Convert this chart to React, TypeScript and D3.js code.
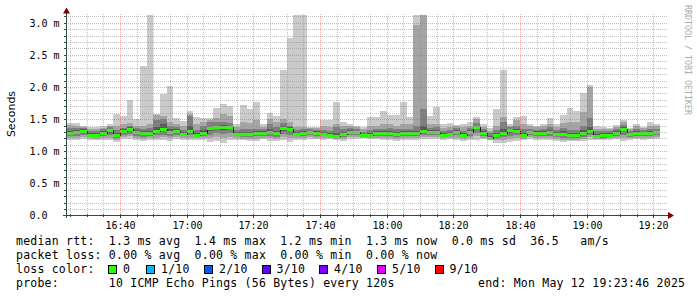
import React from 'react';
import * as d3 from 'd3';

// ---- data (ms), one value per 2-minute step starting 16:24 ----
const pingMin = [1.17,1.18,1.19,1.18,1.17,1.18,1.17,1.15,1.19,1.19,
1.18,1.16,1.18,1.17,1.18,1.16,1.19,1.18,1.17,1.18,
1.17,1.15,1.16,1.13,1.17,1.18,1.17,1.16,1.16,1.19,
1.16,1.16,1.17,1.15,1.18,1.18,1.19,1.19,1.18,1.19,
1.17,1.16,1.19,1.19,1.20,1.19,1.19,1.18,1.17,1.16,
1.18,1.18,1.18,1.19,1.19,1.19,1.18,1.19,1.17,1.16,
1.18,1.17,1.19,1.17,1.13,1.13,1.14,1.16,1.17,1.19,
1.18,1.17,1.18,1.16,1.15,1.16,1.16,1.16,1.18,1.17,
1.17,1.18,1.19,1.16,1.18,1.19,1.18,1.19,1.19];
const ping2 = [1.20,1.21,1.22,1.20,1.19,1.20,1.21,1.18,1.22,1.23,
1.21,1.19,1.21,1.21,1.22,1.20,1.22,1.20,1.21,1.20,
1.20,1.20,1.22,1.20,1.22,1.20,1.19,1.19,1.19,1.21,
1.20,1.19,1.22,1.21,1.20,1.21,1.22,1.21,1.20,1.21,
1.19,1.19,1.22,1.22,1.21,1.21,1.21,1.21,1.20,1.19,
1.21,1.21,1.21,1.22,1.22,1.22,1.20,1.21,1.21,1.19,
1.21,1.23,1.21,1.18,1.17,1.18,1.19,1.20,1.19,1.22,
1.21,1.20,1.21,1.19,1.18,1.18,1.18,1.19,1.22,1.19,
1.19,1.20,1.21,1.21,1.20,1.21,1.21,1.21,1.22];
const ping3 = [1.23,1.24,1.26,1.22,1.22,1.23,1.25,1.21,1.25,1.27,
1.24,1.22,1.24,1.25,1.26,1.24,1.25,1.23,1.25,1.22,
1.23,1.25,1.28,1.27,1.28,1.23,1.22,1.22,1.23,1.24,
1.24,1.22,1.27,1.26,1.23,1.24,1.25,1.24,1.23,1.23,
1.21,1.22,1.25,1.25,1.23,1.23,1.24,1.24,1.24,1.22,
1.24,1.24,1.24,1.26,1.25,1.25,1.22,1.23,1.25,1.22,
1.24,1.29,1.24,1.19,1.21,1.22,1.24,1.25,1.22,1.25,
1.24,1.23,1.24,1.22,1.21,1.21,1.21,1.22,1.26,1.21,
1.21,1.22,1.24,1.26,1.22,1.24,1.24,1.24,1.25];
const ping4 = [1.26,1.28,1.30,1.24,1.24,1.26,1.29,1.24,1.29,1.32,
1.27,1.25,1.27,1.29,1.31,1.27,1.29,1.25,1.29,1.24,
1.26,1.31,1.34,1.33,1.34,1.25,1.25,1.25,1.26,1.26,
1.27,1.25,1.32,1.31,1.25,1.27,1.28,1.27,1.25,1.25,
1.23,1.25,1.28,1.28,1.24,1.25,1.26,1.26,1.27,1.25,
1.26,1.26,1.26,1.29,1.28,1.28,1.24,1.25,1.28,1.24,
1.27,1.34,1.27,1.20,1.24,1.26,1.29,1.29,1.24,1.28,
1.27,1.26,1.27,1.25,1.25,1.24,1.23,1.25,1.29,1.23,
1.23,1.24,1.27,1.31,1.25,1.27,1.26,1.26,1.28];
const medianRtt = [1.28,1.30,1.32,1.25,1.26,1.28,1.33,1.26,1.31,1.35,
1.30,1.28,1.29,1.32,1.35,1.30,1.32,1.27,1.31,1.26,
1.29,1.36,1.38,1.38,1.38,1.27,1.27,1.27,1.28,1.28,
1.30,1.28,1.36,1.35,1.27,1.29,1.30,1.29,1.27,1.26,
1.24,1.27,1.30,1.30,1.25,1.26,1.28,1.28,1.29,1.27,
1.28,1.28,1.28,1.31,1.30,1.30,1.25,1.27,1.30,1.26,
1.30,1.38,1.29,1.21,1.26,1.29,1.33,1.32,1.26,1.30,
1.29,1.28,1.30,1.27,1.27,1.26,1.25,1.28,1.31,1.24,
1.25,1.25,1.29,1.34,1.27,1.29,1.28,1.28,1.30];
const ping7 = [1.32,1.33,1.34,1.28,1.29,1.31,1.35,1.29,1.34,1.37,
1.33,1.31,1.32,1.38,1.42,1.34,1.35,1.30,1.40,1.29,
1.33,1.38,1.40,1.41,1.40,1.30,1.30,1.30,1.31,1.31,
1.35,1.32,1.39,1.37,1.30,1.31,1.32,1.31,1.30,1.29,
1.28,1.30,1.33,1.32,1.27,1.29,1.31,1.31,1.32,1.30,
1.31,1.31,1.32,1.40,1.33,1.33,1.28,1.30,1.33,1.29,
1.33,1.40,1.32,1.24,1.29,1.35,1.35,1.35,1.29,1.32,
1.31,1.31,1.33,1.30,1.31,1.29,1.28,1.33,1.38,1.27,
1.28,1.28,1.31,1.37,1.29,1.32,1.30,1.31,1.32];
const ping8 = [1.36,1.36,1.36,1.31,1.31,1.34,1.38,1.33,1.36,1.39,
1.36,1.35,1.36,1.48,1.50,1.40,1.38,1.33,1.55,1.33,
1.40,1.45,1.45,1.45,1.44,1.33,1.34,1.34,1.35,1.34,
1.42,1.37,1.44,1.40,1.33,1.34,1.34,1.33,1.33,1.32,
1.38,1.34,1.36,1.34,1.30,1.33,1.34,1.35,1.36,1.34,
1.35,1.35,1.40,1.65,1.36,1.37,1.31,1.33,1.36,1.32,
1.36,1.44,1.35,1.28,1.33,1.45,1.37,1.40,1.34,1.35,
1.33,1.34,1.37,1.33,1.36,1.33,1.33,1.40,1.52,1.31,
1.31,1.31,1.34,1.41,1.32,1.35,1.33,1.35,1.35];
const ping9 = [1.41,1.40,1.38,1.35,1.35,1.36,1.40,1.40,1.42,1.44,
1.40,1.40,1.42,1.57,1.55,1.45,1.42,1.39,1.58,1.42,
1.46,1.48,1.52,1.58,1.55,1.37,1.45,1.44,1.48,1.38,
1.50,1.45,1.50,1.45,1.37,1.37,1.36,1.36,1.40,1.38,
1.42,1.40,1.40,1.37,1.34,1.40,1.40,1.42,1.42,1.40,
1.42,1.42,2.97,3.13,1.42,1.42,1.36,1.38,1.39,1.38,
1.40,1.50,1.38,1.32,1.40,1.54,1.40,1.48,1.42,1.39,
1.37,1.39,1.42,1.38,1.44,1.45,1.45,1.61,2.00,1.35,
1.35,1.34,1.38,1.45,1.34,1.39,1.36,1.40,1.39];
const pingMax = [1.44,1.44,1.40,1.38,1.38,1.39,1.42,1.58,1.55,1.79,
1.50,2.33,3.13,1.58,1.89,2.02,1.52,1.47,1.62,1.53,
1.51,1.51,1.68,1.74,1.70,1.42,1.72,1.65,1.77,1.42,
1.59,1.55,2.27,2.76,3.13,3.13,1.37,1.38,1.49,1.49,
1.77,1.46,1.43,1.39,1.37,1.53,1.53,1.62,1.56,1.56,
1.77,1.53,3.13,3.14,1.55,1.69,1.42,1.44,1.41,1.43,
1.45,1.54,1.42,1.36,1.66,2.27,1.42,1.54,1.55,1.42,
1.40,1.43,1.51,1.43,1.56,1.67,1.62,1.90,2.03,1.39,
1.38,1.36,1.41,1.49,1.36,1.43,1.38,1.45,1.42];

const yMajorTicks = [0, 0.5, 1.0, 1.5, 2.0, 2.5, 3.0];
const yTickLabels = ['0.0', '0.5 m', '1.0 m', '1.5 m', '2.0 m', '2.5 m', '3.0 m'];
const xTickLabels = ['16:40', '17:00', '17:20', '17:40', '18:00', '18:20', '18:40', '19:00', '19:20'];

const lossLabels = ['0', '1/10', '2/10', '3/10', '4/10', '5/10', '9/10'];
const lossColors = ['#26ff00', '#00b8ff', '#0059ff', '#5e00ff', '#7e00ff', '#dd00ff', '#ff0000'];

const legendRtt = 'median rtt:  1.3 ms avg  1.4 ms max  1.2 ms min  1.3 ms now  0.0 ms sd  36.5   am/s';
const legendLoss = 'packet loss: 0.00 % avg  0.00 % max  0.00 % min  0.00 % now';
const legendProbe = 'probe:       10 ICMP Echo Pings (56 Bytes) every 120s';
const legendEnd = 'end: Mon May 12 19:23:46 2025';

const STEP = 120 * 1000;
const firstBar = Date.UTC(2025, 4, 12, 16, 24, 0);
const tStart = Date.UTC(2025, 4, 12, 16, 23, 46);
const tEnd = Date.UTC(2025, 4, 12, 19, 23, 46);

const W = 697, H = 297;
const X0 = 66, X1 = 666, Y0 = 215.4, YTOP = 15;

const x = d3.scaleUtc().domain([new Date(tStart), new Date(tEnd)]).range([X0, X1]);
const y = d3.scaleLinear().domain([0, 3]).range([Y0, 22.8]);

const MONO = '"DejaVu Sans Mono", monospace';
const GRID = 'rgba(143,143,143,0.55)';
const MGRID = 'rgba(222,80,80,0.5)';

const PRE: React.CSSProperties = { whiteSpace: 'pre', letterSpacing: '0.22px' };

export default function App() {
  const n = medianRtt.length;
  const barTimes = d3.range(n).map(i => firstBar + i * STEP);
  const bands: [number[], number[], string][] = [
    [pingMin, pingMax, '#cacaca'],
    [ping2, ping9, '#a4a4a4'],
    [ping3, ping8, '#7e7e7e'],
    [ping4, ping7, '#585858'],
  ];
  const px = (t: number) => Math.round(x(new Date(t)));
  const py = (v: number) => Math.round(y(v));

  const minorY: number[] = d3.range(1, 32).map(i => i / 10).filter(v => Math.abs(v * 2 - Math.round(v * 2)) > 1e-6);
  const fiveMin = d3.utcMinute.every(5)!.range(new Date(tStart), new Date(tEnd));
  const twentyMin = d3.utcMinute.every(20)!.range(new Date(tStart), new Date(tEnd));
  const minorX = fiveMin.filter(d => d.getUTCMinutes() % 20 !== 0);
  const fmt = d3.utcFormat('%H:%M');

  const medPts: [number, number][] = barTimes.map((t, i) => [px(t), py(medianRtt[i]) + 0.5]);
  medPts.push([px(barTimes[n - 1] + STEP), py(medianRtt[n - 1]) + 0.5]);
  const medLine = d3.line().curve(d3.curveStepAfter)(medPts) || '';

  return (
    <svg width={W} height={H} style={{ position: 'absolute', left: 0, top: 0, background: '#fff' }}>
      <rect x={0} y={0} width={W} height={H} fill="#ffffff" />
      <defs>
        <clipPath id="plot">
          <rect x={X0} y={YTOP} width={X1 - X0} height={Y0 - YTOP} />
        </clipPath>
      </defs>
      <g clipPath="url(#plot)" shapeRendering="crispEdges">
        {bands.map(([lo, hi, col], b) => (
          <g key={b} fill={col}>
            {barTimes.map((t, i) => {
              const xa = px(t), xb = px(t + STEP);
              const ya = py(hi[i]), yb = py(lo[i]);
              return <rect key={i} x={xa} y={ya} width={xb - xa} height={Math.max(1, yb - ya)} />;
            })}
          </g>
        ))}
        <path d={medLine} fill="none" stroke="#202020" strokeWidth={1} />
        <g fill="#26ff00">
          {barTimes.map((t, i) => {
            const xa = px(t), xb = px(t + STEP);
            const ym = py(medianRtt[i]);
            return <rect key={i} x={xa} y={ym - 1} width={xb - xa} height={3} />;
          })}
        </g>
      </g>
      <g shapeRendering="crispEdges" strokeDasharray="1,1" strokeWidth={1}>
        {minorY.map(v => (
          <line key={'my' + v} x1={X0} x2={X1 + 2} y1={py(v) + 0.5} y2={py(v) + 0.5} stroke={GRID} />
        ))}
        {minorX.map(d => (
          <line key={'mx' + d.getTime()} x1={px(d.getTime()) + 0.5} x2={px(d.getTime()) + 0.5} y1={YTOP - 1} y2={Y0} stroke={GRID} />
        ))}
        {yMajorTicks.slice(1).map(v => (
          <line key={'My' + v} x1={X0} x2={X1 + 2} y1={py(v) + 0.5} y2={py(v) + 0.5} stroke={MGRID} />
        ))}
        {twentyMin.map(d => (
          <line key={'Mx' + d.getTime()} x1={px(d.getTime()) + 0.5} x2={px(d.getTime()) + 0.5} y1={YTOP - 1} y2={Y0} stroke={MGRID} />
        ))}
      </g>
      <g shapeRendering="crispEdges" stroke="#2c4d43">
        {minorY.concat(yMajorTicks.slice(1)).map(v => (
          <line key={'ty' + v} x1={X0 - 2} x2={X0 + 1} y1={py(v) + 0.5} y2={py(v) + 0.5} />
        ))}
        {fiveMin.map(d => (
          <line key={'tx' + d.getTime()} x1={px(d.getTime()) + 0.5} x2={px(d.getTime()) + 0.5} y1={py(0) - 1} y2={py(0) + (d.getUTCMinutes() % 20 === 0 ? 3 : 2)} />
        ))}
      </g>
      <g shapeRendering="crispEdges">
        <line x1={X0 + 0.5} x2={X0 + 0.5} y1={py(0) + 3} y2={12} stroke="#2c4d43" />
        <line x1={X0 - 3} x2={X1 + 4} y1={py(0) + 0.5} y2={py(0) + 0.5} stroke="#2c4d43" />
      </g>
      <path d={`M${X0 - 3},13.5 L${X0 + 4},13.5 L${X0 + 0.5},7.5 Z`} fill="#7f0000" />
      <path d={`M${X1 + 2},${py(0) - 3} L${X1 + 2},${py(0) + 4} L${X1 + 8},${py(0) + 0.5} Z`} fill="#7f0000" />
      <g fontFamily={MONO} fontSize={10} fill="#000">
        {yMajorTicks.map((v, i) => (
          <text key={'yl' + i} x={29.5} y={py(v) + 4} xmlSpace="preserve" style={{ whiteSpace: 'pre' }}>{yTickLabels[i]}</text>
        ))}
        {twentyMin.map((d, i) => (
          <text key={'xl' + i} x={px(d.getTime()) + 0.5} y={228.5} textAnchor="middle">{xTickLabels[i] ?? fmt(d)}</text>
        ))}
      </g>
      <text transform="translate(15,114) rotate(-90)" textAnchor="middle" fontFamily='"DejaVu Sans", sans-serif' fontSize={11} fill="#000">Seconds</text>
      <text transform="translate(685,5) rotate(90)" fontFamily={MONO} fontSize={8.3} fill="#aaaaaa" xmlSpace="preserve" style={{ whiteSpace: 'pre' }}>RRDTOOL / TOBI OETIKER</text>
      <g fontFamily={MONO} fontSize={11.5} fill="#000">
        <text x={16} y={245} xmlSpace="preserve" style={PRE}>{legendRtt}</text>
        <text x={16} y={259} xmlSpace="preserve" style={PRE}>{legendLoss}</text>
        <text x={16} y={273} xmlSpace="preserve" style={PRE}>loss color:</text>
        <text x={16} y={287} xmlSpace="preserve" style={PRE}>{legendProbe}</text>
        <text x={478} y={287} xmlSpace="preserve" style={PRE}>{legendEnd}</text>
        {lossLabels.map((l, i) => {
          const sx = [108, 146, 204, 261.5, 319, 377, 434.5][i];
          return (
            <g key={l}>
              <rect x={sx + 0.5} y={265.5} width={8} height={8} fill={lossColors[i]} stroke="#000" strokeWidth={1} shapeRendering="crispEdges" />
              <text x={sx + 15} y={273} style={PRE}>{l}</text>
            </g>
          );
        })}
      </g>
    </svg>
  );
}
